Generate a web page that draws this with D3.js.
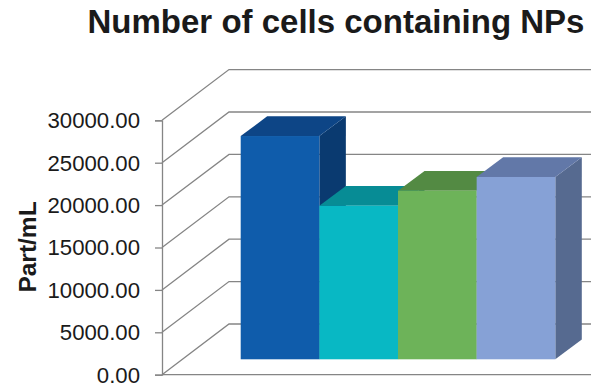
<!DOCTYPE html>
<html>
<head>
<meta charset="utf-8">
<script src="https://cdn.jsdelivr.net/npm/d3@7"></script>
<style>
html, body { margin: 0; padding: 0; background: #fff; }
svg { display: block; }
text { font-family: "Liberation Sans", Arial, sans-serif; fill: #1a1a1a; }
</style>
</head>
<body>
<div id="chart"></div>
<script>
const categories = ["Sample 1", "Sample 2", "Sample 3", "Sample 4"];
const values = [26330, 18110, 19880, 21500];
const frontColors = ["#0f5cab", "#08b8c4", "#6db359", "#86a1d6"];
const topColors = ["#0d4586", "#078c95", "#538a43", "#6278a8"];
const sideColors = ["#0a3a70", "#06707a", "#44703a", "#566a90"];
const yTicks = [0, 5000, 10000, 15000, 20000, 25000, 30000];

const width = 591, height = 387;
const axisX = 162;
const wallDx = 67, wallDy = 50.7;    // depth of the oblique floor and side wall
const barDx = 26.5, barDy = 19.7;    // depth of each bar
const barLift = 15.4;                // bars stand this far above the front floor edge

const svg = d3.select("#chart").append("svg")
  .attr("width", width).attr("height", height);

const y = d3.scaleLinear().domain([0, 30000]).range([374.7, 120.3]);
const x = d3.scaleBand().domain(categories).range([240.7, 555.3]).padding(0);

// Oblique gridlines running up the side wall and across the back wall
const gridColor = "#858585";
svg.append("g").selectAll("path").data(yTicks).join("path")
  .attr("fill", "none")
  .attr("stroke", gridColor)
  .attr("stroke-width", 1.3)
  .attr("d", d => {
    const p = d3.path();
    p.moveTo(axisX, y(d));
    p.lineTo(axisX + wallDx, y(d) - wallDy);
    p.lineTo(width, y(d) - wallDy);
    return p.toString();
  });

// Front edge of the floor
svg.append("line")
  .attr("x1", axisX).attr("x2", width)
  .attr("y1", y(0)).attr("y2", y(0))
  .attr("stroke", gridColor).attr("stroke-width", 1.3);

// Value axis
const axis = d3.axisLeft(y).tickValues(yTicks)
  .tickFormat(d3.format(".2f")).tickSize(7).tickPadding(15);
const axisG = svg.append("g")
  .attr("transform", `translate(${axisX},0)`)
  .call(axis);
axisG.selectAll("line, path").attr("stroke", gridColor).attr("stroke-width", 1.3);
axisG.selectAll("text")
  .style("font-size", "22.2px")
  .attr("fill", "#1a1a1a")
  .attr("dy", "0.33em");

// Bars: side, top and front faces, painted left to right
const bars = svg.append("g").selectAll("g")
  .data(categories.map((c, i) => ({ c, v: values[i], i })))
  .join("g");

bars.append("path")
  .attr("fill", d => sideColors[d.i])
  .attr("d", d => {
    const r = x(d.c) + x.bandwidth(), t = y(d.v) - barLift, b = y(0) - barLift;
    return `M${r},${t}L${r + barDx},${t - barDy}L${r + barDx},${b - barDy}L${r},${b}Z`;
  });

bars.append("path")
  .attr("fill", d => topColors[d.i])
  .attr("d", d => {
    const l = x(d.c), r = l + x.bandwidth(), t = y(d.v) - barLift;
    return `M${l},${t}L${l + barDx},${t - barDy}L${r + barDx},${t - barDy}L${r},${t}Z`;
  });

bars.append("rect")
  .attr("fill", d => frontColors[d.i])
  .attr("x", d => x(d.c))
  .attr("y", d => y(d.v) - barLift)
  .attr("width", x.bandwidth())
  .attr("height", d => y(0) - y(d.v));

// Title and axis label
svg.append("text")
  .attr("x", 336).attr("y", 33)
  .attr("text-anchor", "middle")
  .style("font-size", "33px").style("font-weight", "bold")
  .text("Number of cells containing NPs");

svg.append("text")
  .attr("transform", "translate(36,247) rotate(-90)")
  .attr("text-anchor", "middle")
  .style("font-size", "24.5px").style("font-weight", "bold")
  .text("Part/mL");
</script>
</body>
</html>
